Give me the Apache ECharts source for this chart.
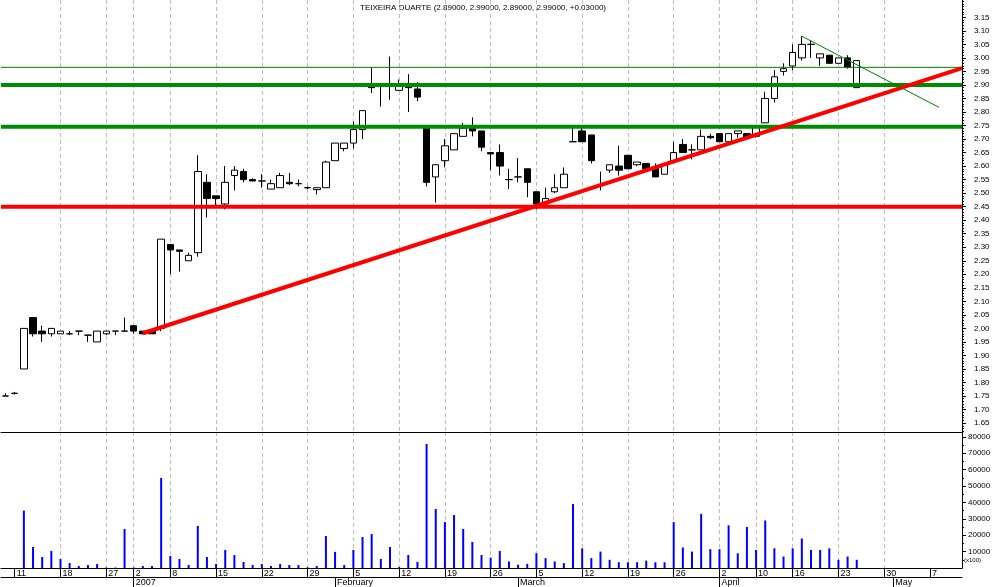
<!DOCTYPE html>
<html><head><meta charset="utf-8">
<script src="https://cdn.jsdelivr.net/npm/echarts@6.0.0/dist/echarts.min.js"></script>
<style>html,body{margin:0;padding:0;background:#fff}#c{width:994px;height:587px}</style>
</head><body><div id="c"></div>
<script>
// ---- data ----
const categories = [
 '2006-12-08','2006-12-11','2006-12-12','2006-12-13','2006-12-14','2006-12-15','2006-12-18','2006-12-19','2006-12-20','2006-12-21','2006-12-22','2006-12-27','2006-12-28','2006-12-29',
 '2007-01-02','2007-01-03','2007-01-04','2007-01-05','2007-01-08','2007-01-09','2007-01-10','2007-01-11','2007-01-12','2007-01-15','2007-01-16','2007-01-17','2007-01-18','2007-01-19','2007-01-22','2007-01-23','2007-01-24','2007-01-25','2007-01-26','2007-01-29','2007-01-30','2007-01-31',
 '2007-02-01','2007-02-02','2007-02-05','2007-02-06','2007-02-07','2007-02-08','2007-02-09','2007-02-12','2007-02-13','2007-02-14','2007-02-15','2007-02-16','2007-02-19','2007-02-20','2007-02-21','2007-02-22','2007-02-23','2007-02-26','2007-02-27','2007-02-28',
 '2007-03-01','2007-03-02','2007-03-05','2007-03-06','2007-03-07','2007-03-08','2007-03-09','2007-03-12','2007-03-13','2007-03-14','2007-03-15','2007-03-16','2007-03-19','2007-03-20','2007-03-21','2007-03-22','2007-03-23','2007-03-26','2007-03-27','2007-03-28','2007-03-29','2007-03-30',
 '2007-04-02','2007-04-03','2007-04-04','2007-04-05','2007-04-10','2007-04-11','2007-04-12','2007-04-13','2007-04-16','2007-04-17','2007-04-18','2007-04-19','2007-04-20','2007-04-23','2007-04-24','2007-04-25','2007-04-26','2007-04-27','2007-04-30',
 '2007-05-01','2007-05-02','2007-05-03','2007-05-04','2007-05-07','2007-05-08','2007-05-09','2007-05-10'
];
const openP = [1.75,1.76,1.85,2.04,1.99,1.98,1.98,1.98,1.99,1.975,1.95,1.98,1.99,1.99,
 2.01,1.99,1.99,2.00,2.31,2.29,2.25,2.28,2.54,2.49,2.46,2.565,2.58,2.55,2.545,2.515,2.52,2.54,2.535,2.52,2.513,2.52,
 2.62,2.665,2.685,2.735,2.895,2.895,2.895,2.88,2.895,2.885,2.74,2.56,2.62,2.66,2.71,2.74,2.73,2.65,2.65,2.55,
 2.56,2.59,2.505,2.46,2.505,2.52,2.69,2.73,2.715,2.53,2.585,2.60,2.64,2.605,2.61,2.595,2.57,2.62,2.68,2.66,2.66,2.71,
 2.72,2.69,2.72,2.72,2.71,2.76,2.85,2.95,2.97,3.00,3.05,3.00,3.01,2.98,3.00,2.89];
const highP = [1.76,1.765,2.00,2.04,2.01,2.00,1.99,1.99,1.99,1.975,1.99,1.99,1.99,2.04,
 2.01,1.99,1.99,2.33,2.31,2.29,2.28,2.64,2.57,2.49,2.60,2.60,2.59,2.555,2.57,2.55,2.575,2.575,2.55,2.525,2.52,2.62,
 2.685,2.685,2.765,2.805,2.965,2.895,3.005,2.92,2.94,2.91,2.75,2.605,2.70,2.72,2.76,2.78,2.73,2.65,2.68,2.59,
 2.63,2.59,2.505,2.52,2.57,2.595,2.75,2.745,2.715,2.58,2.605,2.675,2.64,2.615,2.61,2.61,2.61,2.69,2.70,2.68,2.735,2.72,
 2.72,2.72,2.73,2.72,2.75,2.875,2.955,2.98,3.05,3.08,3.065,3.015,3.01,3.00,3.01,2.99];
const lowP = [1.75,1.755,1.85,1.97,1.95,1.97,1.98,1.975,1.975,1.95,1.95,1.975,1.975,1.99,
 1.98,1.98,1.98,1.99,2.20,2.21,2.25,2.265,2.41,2.45,2.44,2.51,2.54,2.545,2.52,2.515,2.52,2.53,2.525,2.515,2.495,2.52,
 2.62,2.655,2.665,2.70,2.87,2.82,2.845,2.88,2.80,2.84,2.525,2.465,2.595,2.66,2.71,2.71,2.655,2.585,2.565,2.515,
 2.54,2.485,2.44,2.455,2.50,2.52,2.69,2.69,2.61,2.51,2.575,2.565,2.59,2.60,2.585,2.56,2.57,2.62,2.65,2.625,2.66,2.70,
 2.69,2.69,2.705,2.705,2.705,2.76,2.835,2.935,2.955,2.99,3.00,2.97,2.98,2.98,2.96,2.89];
const closeP = [1.75,1.76,2.00,1.98,1.98,2.00,1.99,1.98,1.99,1.975,1.99,1.99,1.99,1.99,
 1.99,1.98,1.98,2.33,2.29,2.285,2.27,2.58,2.48,2.48,2.54,2.585,2.55,2.545,2.545,2.535,2.565,2.535,2.535,2.52,2.52,2.615,
 2.685,2.685,2.735,2.805,2.89,2.895,2.895,2.895,2.89,2.855,2.54,2.605,2.675,2.72,2.74,2.73,2.67,2.645,2.60,2.55,
 2.56,2.54,2.46,2.48,2.52,2.57,2.69,2.69,2.62,2.53,2.605,2.585,2.59,2.615,2.59,2.56,2.605,2.65,2.65,2.66,2.71,2.705,
 2.69,2.72,2.73,2.705,2.75,2.85,2.93,2.96,3.02,3.05,3.05,3.015,2.98,3.00,2.965,2.99];
const volume = [0,0,35000,12800,6700,10400,5500,3000,1200,1800,2400,300,300,23800,
 300,1200,1200,54900,7300,5500,1800,25600,6700,2400,11000,7900,3700,1800,2400,1200,2400,1800,1800,500,1200,19500,
 9800,1800,11000,18900,20700,5500,12800,600,7900,3700,75600,36000,28000,32300,23800,15900,7900,6300,10400,4000,
 2000,2500,9000,6000,4000,3000,39000,12000,6000,10000,5000,3500,3500,3500,4500,3500,3500,28000,12500,10000,33000,11500,
 11500,26000,9000,25000,11000,29000,12000,7000,12000,18000,11000,11000,12000,5000,7000,5000];

const dayTickIdx = [1,6,11,14,18,23,28,33,38,43,48,53,58,63,68,73,78,82,86,91,96,101];
const dayTickLabels = ['11','18','27','2','8','15','22','29','5','12','19','26','5','12','19','26','2','10','16','23','30','7'];
const monthTickIdx = [14,36,56,78,97];
const monthTickLabels = ['2007','February','March','April','May'];
const priceTicks = [1.65,1.70,1.75,1.80,1.85,1.90,1.95,2.00,2.05,2.10,2.15,2.20,2.25,2.30,2.35,2.40,2.45,2.50,2.55,2.60,2.65,2.70,2.75,2.80,2.85,2.90,2.95,3.00,3.05,3.10,3.15];
const volumeTicks = [10000,20000,30000,40000,50000,60000,70000,80000];
const volumeMinorTicks = [5000,15000,25000,35000,45000,55000,65000,75000];
const supportLevel = 2.45;
const resistanceLevels = [2.745, 2.90];
const referenceLevel = 2.965;
const upTrend = [[15,1.982],[104.5,2.962]];
const downTrend = [[87,3.08],[102,2.817]];
const titleText = 'TEIXEIRA DUARTE (2.89000, 2.99000, 2.89000, 2.99000, +0.03000)';

// ---- build ----
const PMIN = 1.617, PMAX = 3.214, VMAX = 82927, XMIN = -0.5, XMAX = 104.5;
const minorPrice = [];
for (let k = 162; k <= 321; k++) minorPrice.push(k / 100);
const candleData = openP.map((o, i) => [o, closeP[i], lowP[i], highP[i]]);
const FONT = 'Liberation Sans';
const hline = (v) => [[XMIN, v], [XMAX, v]];
const lineSeries = (data, color, width) => ({
  type: 'line', xAxisIndex: 2, yAxisIndex: 0, data, symbol: 'none', silent: true,
  lineStyle: { color, width }, z: 5, animation: false
});
const dashed = { show: true, showMinLine: false, showMaxLine: false,
  lineStyle: { color: '#bdbdbd', width: 1, type: [4, 3] } };

const chart = echarts.init(document.getElementById('c'), null, { renderer: 'canvas' });
chart.setOption({
  animation: false,
  backgroundColor: '#fff',
  grid: [
    { left: 1, right: 32, top: 0, height: 432 },
    { left: 1, right: 32, top: 432, height: 136 }
  ],
  xAxis: [
    { type: 'category', gridIndex: 0, data: categories, show: false, position: 'bottom' },
    { type: 'category', gridIndex: 1, data: categories, show: false, position: 'bottom' },
    { type: 'value', gridIndex: 0, min: XMIN, max: XMAX, position: 'bottom',
      axisLine: { show: true, onZero: false, lineStyle: { color: '#000', width: 1 } },
      axisTick: { show: false, customValues: dayTickIdx },
      axisLabel: { show: false, customValues: dayTickIdx },
      splitLine: dashed },
    { type: 'value', gridIndex: 1, min: XMIN, max: XMAX, position: 'bottom',
      axisLine: { show: true, onZero: false, lineStyle: { color: '#000', width: 1 } },
      axisTick: { show: true, customValues: dayTickIdx, length: 9, lineStyle: { color: '#000' } },
      axisLabel: { show: true, customValues: dayTickIdx, align: 'left', margin: 1, padding: [0, 0, 0, 2],
        fontSize: 9, fontFamily: FONT, color: '#000',
        formatter: (v) => dayTickLabels[dayTickIdx.indexOf(Math.round(v))] },
      splitLine: dashed },
    { type: 'value', gridIndex: 1, min: XMIN, max: XMAX, position: 'bottom', offset: 9,
      axisLine: { show: true, onZero: false, lineStyle: { color: '#000', width: 1 } },
      axisTick: { show: true, customValues: monthTickIdx, length: 10, lineStyle: { color: '#000' } },
      axisLabel: { show: true, customValues: monthTickIdx, align: 'left', margin: 1, padding: [0, 0, 0, 2],
        fontSize: 9, fontFamily: FONT, color: '#000',
        formatter: (v) => monthTickLabels[monthTickIdx.indexOf(Math.round(v))] },
      splitLine: { show: false } }
  ],
  yAxis: [
    { type: 'value', gridIndex: 0, position: 'right', min: PMIN, max: PMAX, scale: true,
      axisLine: { show: true, onZero: false, lineStyle: { color: '#000' } },
      axisTick: { show: true, customValues: priceTicks, length: 4, lineStyle: { color: '#000' } },
      axisLabel: { show: true, customValues: priceTicks, margin: 12, fontSize: 8, fontFamily: FONT, color: '#000',
        formatter: (v) => v.toFixed(2) },
      splitLine: { show: false } },
    { type: 'value', gridIndex: 0, position: 'right', min: PMIN, max: PMAX, scale: true,
      axisLine: { show: false, onZero: false },
      axisTick: { show: true, customValues: minorPrice, length: 2, lineStyle: { color: '#000' } },
      axisLabel: { show: false }, splitLine: { show: false } },
    { type: 'value', gridIndex: 1, position: 'right', min: 0, max: VMAX,
      axisLine: { show: true, onZero: false, lineStyle: { color: '#000' } },
      axisTick: { show: true, customValues: volumeTicks, length: 4, lineStyle: { color: '#000' } },
      axisLabel: { show: true, customValues: volumeTicks, margin: 6, fontSize: 8, fontFamily: FONT, color: '#000',
        formatter: (v) => String(Math.round(v)) },
      splitLine: { show: false } },
    { type: 'value', gridIndex: 1, position: 'right', min: 0, max: VMAX,
      axisLine: { show: false, onZero: false },
      axisTick: { show: true, customValues: volumeMinorTicks, length: 2, lineStyle: { color: '#000' } },
      axisLabel: { show: false }, splitLine: { show: false } }
  ],
  graphic: [
    { type: 'text', left: 360, top: 4, style: { text: titleText, fontSize: 8, fontFamily: FONT, fill: '#000' } },
    { type: 'text', left: 964, top: 557, style: { text: '(x100)', fontSize: 6, fontFamily: FONT, fill: '#000' } }
  ],
  series: [
    lineSeries(hline(referenceLevel), '#008000', 1),
    lineSeries(hline(resistanceLevels[0]), '#008c00', 4),
    lineSeries(hline(resistanceLevels[1]), '#008c00', 4),
    lineSeries(hline(supportLevel), '#ff0000', 4),
    lineSeries(upTrend, '#ff0000', 4),
    lineSeries(downTrend, '#008000', 1),
    { type: 'candlestick', xAxisIndex: 0, yAxisIndex: 0, data: candleData, barWidth: 7, z: 3,
      itemStyle: { color: '#fff', color0: '#000', borderColor: '#000', borderColor0: '#000', borderWidth: 1 } },
    { type: 'bar', xAxisIndex: 1, yAxisIndex: 2, data: volume, barWidth: 2,
      itemStyle: { color: '#0000ff' } }
  ]
});
</script>
</body></html>
